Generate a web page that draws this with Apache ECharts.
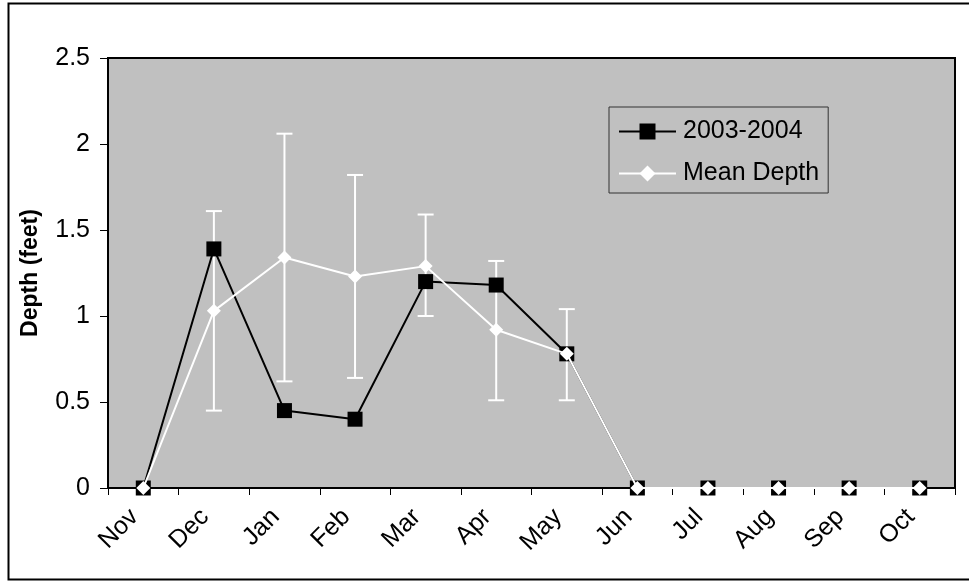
<!DOCTYPE html>
<html><head><meta charset="utf-8">
<script src="https://cdn.jsdelivr.net/npm/echarts@6/dist/echarts.min.js"></script>
<style>html,body{margin:0;padding:0;background:#fff}#c{width:969px;height:581px}</style>
</head><body><div id="c"></div>
<script>
const months = ['Nov','Dec','Jan','Feb','Mar','Apr','May','Jun','Jul','Aug','Sep','Oct'];
const depth2003 = [0, 1.39, 0.45, 0.40, 1.20, 1.18, 0.78, 0, 0, 0, 0, 0];
const meanDepth = [0, 1.03, 1.34, 1.23, 1.29, 0.92, 0.78, 0, 0, 0, 0, 0];
const errLow  = [null, 0.45, 0.62, 0.64, 1.00, 0.51, 0.51, null, null, null, null, null];
const errHigh = [null, 1.61, 2.06, 1.82, 1.59, 1.32, 1.04, null, null, null, null, null];
const yTicks = [0, 0.5, 1, 1.5, 2, 2.5];

const FONT = '"Liberation Sans", Arial, sans-serif';
const errData = [];
months.forEach((m, i) => { if (errLow[i] != null) errData.push([i, errLow[i], errHigh[i]]); });

const chart = echarts.init(document.getElementById('c'), null, {renderer: 'canvas'});
chart.setOption({
  animation: false,
  backgroundColor: '#fff',
  textStyle: {fontFamily: FONT},
  grid: {left: 108, top: 58, right: 14, bottom: 93, show: true, backgroundColor: '#C0C0C0', borderColor: '#000', borderWidth: 2},
  graphic: [{type: 'rect', shape: {x: 8.5, y: 3.5, width: 975, height: 576}, style: {fill: null, stroke: '#000', lineWidth: 2}, silent: true}],
  legend: {
    left: 609, top: 107, orient: 'vertical', zlevel: 2,
    backgroundColor: '#C0C0C0', borderColor: '#333', borderWidth: 1,
    padding: [12, 9, 7, 9], itemGap: 17, itemWidth: 57, itemHeight: 20,
    textStyle: {fontFamily: FONT, fontSize: 25, color: '#000', padding: [0, 0, 0, 2]},
    data: ['2003-2004', 'Mean Depth']
  },
  xAxis: {
    type: 'category', data: months, boundaryGap: true,
    axisLine: {lineStyle: {color: '#000', width: 2}},
    axisTick: {show: true, length: 7, lineStyle: {color: '#000', width: 1}},
    axisLabel: {rotate: 45, fontSize: 25, color: '#000', fontFamily: FONT, margin: 34, interval: 0, verticalAlign: 'bottom'},
    splitLine: {show: false}
  },
  yAxis: {
    type: 'value', min: 0, max: 2.5, interval: 0.5,
    name: 'Depth (feet)', nameLocation: 'middle', nameGap: 66, nameRotate: 90,
    nameTextStyle: {fontFamily: FONT, fontSize: 23, fontWeight: 'bold', color: '#000'},
    axisLine: {show: true, lineStyle: {color: '#000', width: 2}},
    axisTick: {show: true, length: 8, lineStyle: {color: '#000', width: 1}},
    axisLabel: {fontSize: 25, color: '#000', fontFamily: FONT, margin: 18,
      formatter: v => yTicks.includes(v) ? String(v) : ''},
    splitLine: {show: false}
  },
  series: [
    {
      type: 'custom', name: 'err', zlevel: 1, z: 2,
      data: errData,
      encode: {x: 0, y: [1, 2]},
      renderItem: (params, api) => {
        const x = api.value(0);
        const lo = api.coord([x, api.value(1)]);
        const hi = api.coord([x, api.value(2)]);
        const hw = 8;
        const st = {stroke: '#fff', lineWidth: 2};
        return {type: 'group', children: [
          {type: 'line', shape: {x1: lo[0], y1: lo[1], x2: hi[0], y2: hi[1]}, style: st},
          {type: 'line', shape: {x1: lo[0]-hw, y1: lo[1], x2: lo[0]+hw, y2: lo[1]}, style: st},
          {type: 'line', shape: {x1: hi[0]-hw, y1: hi[1], x2: hi[0]+hw, y2: hi[1]}, style: st}
        ]};
      }
    },
    {
      type: 'line', name: '2003-2004', data: depth2003, zlevel: 1, z: 3, clip: false,
      symbol: 'rect', symbolSize: 15,
      lineStyle: {color: '#000', width: 2},
      itemStyle: {color: '#000', borderColor: '#000', borderWidth: 0},
      color: '#000'
    },
    {
      type: 'line', name: 'Mean Depth', data: meanDepth, zlevel: 1, z: 4, clip: false,
      symbol: 'diamond', symbolSize: 14,
      lineStyle: {color: '#fff', width: 2},
      itemStyle: {color: '#fff', borderWidth: 0},
      color: '#fff'
    }
  ]
});
</script></body></html>
